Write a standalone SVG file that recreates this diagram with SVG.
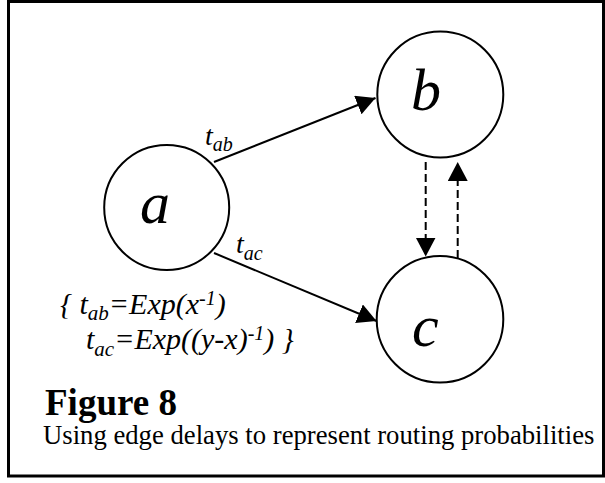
<svg xmlns="http://www.w3.org/2000/svg" width="605" height="483" viewBox="0 0 605 483">
<style>
.node{fill:#fff;stroke:#000;stroke-width:2}
.edge{fill:none;stroke:#000;stroke-width:2}
.dash{stroke-dasharray:8,4}
.t{font-family:"Liberation Serif","Times New Roman",serif;fill:#000}
.it{font-style:italic}
.big{font-size:60px}
.lbl{font-size:28px}
.f{font-size:30px}
</style>
<defs>
<marker id="ah" markerUnits="userSpaceOnUse" markerWidth="20" markerHeight="20" refX="19" refY="10" orient="auto">
<path d="M0,0 L19,10 L0,20 Z" fill="#000"/>
</marker>
</defs>
<rect x="0" y="0" width="605" height="483" fill="#fff"/>
<rect x="8.5" y="1.5" width="595" height="474.5" fill="none" stroke="#000" stroke-width="3"/>
<g id="connectors">
<line class="edge" x1="214" y1="162" x2="375.5" y2="98" marker-end="url(#ah)"/>
<line class="edge" x1="214" y1="253" x2="376.5" y2="321" marker-end="url(#ah)"/>
<line class="edge dash" x1="425.7" y1="162" x2="425.7" y2="256.5" marker-end="url(#ah)"/>
<line class="edge dash" x1="457.7" y1="258" x2="457.7" y2="162" marker-end="url(#ah)"/>
<text class="t it lbl" x="205" y="145">t<tspan dy="6" font-size="20">ab</tspan></text>
<text class="t it lbl" x="236" y="253">t<tspan dy="7" font-size="20">ac</tspan></text>
</g>
<g id="node-a">
<circle class="node" cx="166.7" cy="207.5" r="62.5"/>
<text class="t it big" x="140" y="223">a</text>
</g>
<g id="node-b">
<circle class="node" cx="440.3" cy="94.5" r="63"/>
<text class="t it big" x="411" y="110">b</text>
</g>
<g id="node-c">
<circle class="node" cx="440" cy="319.3" r="63.3"/>
<text class="t it big" x="412" y="346">c</text>
</g>
<g id="formula">
<text class="t it f" x="60" y="314">{ t<tspan dy="6" font-size="21">ab</tspan><tspan dy="-6">=Exp(x</tspan><tspan dy="-9" font-size="20">-1</tspan><tspan dy="9">)</tspan></text>
<text class="t it f" x="86" y="349">t<tspan dy="7" font-size="21">ac</tspan><tspan dy="-7">=Exp((y-x)</tspan><tspan dy="-9" font-size="20">-1</tspan><tspan dy="9">) }</tspan></text>
</g>
<g id="caption">
<text class="t" x="45" y="415" font-size="37" font-weight="bold">Figure 8</text>
<text class="t" x="43" y="444" font-size="26.7">Using edge delays to represent routing probabilities</text>
</g>
</svg>
